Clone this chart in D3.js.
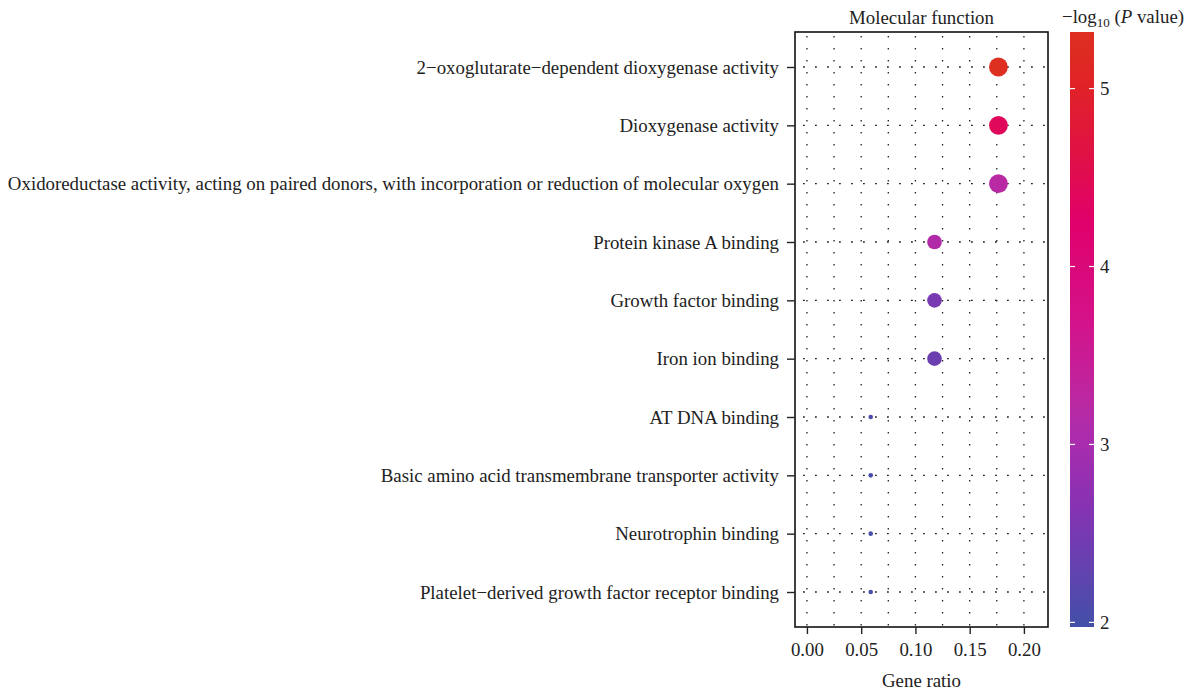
<!DOCTYPE html>
<html>
<head>
<meta charset="utf-8">
<script src="https://cdn.jsdelivr.net/npm/d3@7"></script>
<style>
  html, body { margin: 0; padding: 0; background: #fff; }
  svg text { font-family: "Liberation Serif", "DejaVu Serif", serif; fill: #222; }
</style>
</head>
<body>
<svg id="chart" width="1186" height="693"></svg>
<script>
// GO terms (molecular function), top to bottom
const terms = [
  "2\u2212oxoglutarate\u2212dependent dioxygenase activity",
  "Dioxygenase activity",
  "Oxidoreductase activity, acting on paired donors, with incorporation or reduction of molecular oxygen",
  "Protein kinase A binding",
  "Growth factor binding",
  "Iron ion binding",
  "AT DNA binding",
  "Basic amino acid transmembrane transporter activity",
  "Neurotrophin binding",
  "Platelet\u2212derived growth factor receptor binding"
];
const geneRatio = [0.1765, 0.1765, 0.1765, 0.1176, 0.1176, 0.1176, 0.0588, 0.0588, 0.0588, 0.0588];
const geneCount = [3, 3, 3, 2, 2, 2, 1, 1, 1, 1];
const negLogP   = [5.318, 4.42, 3.22, 3.12, 2.52, 2.38, 2.06, 2.04, 2.0, 1.974];

const xTicks = [0, 0.05, 0.10, 0.15, 0.20];
const xGrid  = [0, 0.025, 0.05, 0.075, 0.10, 0.125, 0.15, 0.175, 0.20];
const legendTicks = [2, 3, 4, 5];

// colour ramp for -log10(P)
const stopValues = [1.974, 2.35, 2.69, 3.0, 3.25, 3.7, 4.26, 4.6, 5.0, 5.318];
const stopColors = ["#4250a8", "#6840b0", "#8a31b2", "#a82dae", "#bb28a2", "#d4128a", "#e0006a", "#e01048", "#e02228", "#dd3020"];

const FS = 18.85;
const svg = d3.select("#chart");
const panel = { left: 795, right: 1048, top: 32, bottom: 627 };

const x = d3.scaleLinear().domain([-0.011, 0.2222]).range([panel.left, panel.right]);
const y = d3.scalePoint().domain(terms).range([panel.top, panel.bottom]).padding(0.6);
const color = d3.scaleLinear().domain(stopValues).range(stopColors).interpolate(d3.interpolateRgb);
// size: sqrt-of-rescaled count
const cExt = d3.extent(geneCount);
const rescale = d3.scaleLinear().domain(cExt).range([0, 1]);
const radius = d3.scaleSqrt().domain([0, 1]).range([2.3, 9.4]);

const g = svg.append("g");

// vertical dotted grid
g.selectAll("line.vgrid").data(xGrid).join("line")
  .attr("x1", d => x(d)).attr("x2", d => x(d))
  .attr("y1", panel.top).attr("y2", panel.bottom)
  .attr("stroke", "#222").attr("stroke-width", 1.3)
  .attr("stroke-dasharray", "1.6,10.4")
  .attr("stroke-dashoffset", -4);

// horizontal dotted grid at each term
g.selectAll("line.hgrid").data(terms).join("line")
  .attr("x1", panel.left).attr("x2", panel.right)
  .attr("y1", d => y(d)).attr("y2", d => y(d))
  .attr("stroke", "#222").attr("stroke-width", 1.3)
  .attr("stroke-dasharray", "1.8,10.2")
  .attr("stroke-dashoffset", -8);

// points
const rows = terms.map((t, i) => ({ term: t, ratio: geneRatio[i], count: geneCount[i], p: negLogP[i] }));
g.selectAll("circle.pt").data(rows).join("circle")
  .attr("cx", d => x(d.ratio))
  .attr("cy", d => y(d.term))
  .attr("r", d => radius(rescale(d.count)))
  .attr("fill", d => color(d.p));

// panel border
g.append("rect")
  .attr("x", panel.left).attr("y", panel.top)
  .attr("width", panel.right - panel.left).attr("height", panel.bottom - panel.top)
  .attr("fill", "none").attr("stroke", "#111").attr("stroke-width", 1.6);

// y axis
const yAxis = g.append("g").attr("transform", `translate(${panel.left},0)`)
  .call(d3.axisLeft(y).tickSize(8).tickPadding(8));
yAxis.select(".domain").remove();
yAxis.selectAll(".tick line").attr("stroke", "#222").attr("stroke-width", 1.4);
yAxis.selectAll(".tick text").attr("font-size", FS).style("font-family", '"Liberation Serif", serif').attr("fill", "#222");

// x axis
const xAxis = g.append("g").attr("transform", `translate(0,${panel.bottom})`)
  .call(d3.axisBottom(x).tickValues(xTicks).tickFormat(d3.format(".2f")).tickSize(7).tickPadding(9));
xAxis.select(".domain").remove();
xAxis.selectAll(".tick line").attr("stroke", "#222").attr("stroke-width", 1.4);
xAxis.selectAll(".tick text").attr("font-size", FS).style("font-family", '"Liberation Serif", serif').attr("fill", "#222");

// titles
svg.append("text").attr("x", (panel.left + panel.right) / 2).attr("y", 24)
  .attr("text-anchor", "middle").attr("font-size", FS).text("Molecular function");
svg.append("text").attr("x", (panel.left + panel.right) / 2).attr("y", 687)
  .attr("text-anchor", "middle").attr("font-size", FS).text("Gene ratio");

// colour bar legend
const bar = { x: 1070, w: 24, top: 32, bottom: 627 };
const lg = d3.scaleLinear().domain(d3.extent(negLogP)).range([bar.bottom, bar.top]);
const defs = svg.append("defs");
const grad = defs.append("linearGradient").attr("id", "pgrad")
  .attr("x1", 0).attr("y1", 1).attr("x2", 0).attr("y2", 0);
const [pMin, pMax] = d3.extent(negLogP);
grad.selectAll("stop").data(d3.range(0, 1.0001, 0.02)).join("stop")
  .attr("offset", d => d)
  .attr("stop-color", d => color(pMin + d * (pMax - pMin)));
svg.append("rect").attr("x", bar.x).attr("y", bar.top)
  .attr("width", bar.w).attr("height", bar.bottom - bar.top)
  .attr("fill", "url(#pgrad)");
const lt = svg.append("g");
lt.selectAll("line.l").data(legendTicks).join("line")
  .attr("x1", bar.x).attr("x2", bar.x + 5)
  .attr("y1", d => lg(d)).attr("y2", d => lg(d))
  .attr("stroke", "#fff").attr("stroke-width", 1.2);
lt.selectAll("line.r").data(legendTicks).join("line")
  .attr("x1", bar.x + bar.w - 5).attr("x2", bar.x + bar.w)
  .attr("y1", d => lg(d)).attr("y2", d => lg(d))
  .attr("stroke", "#fff").attr("stroke-width", 1.2);
lt.selectAll("text").data(legendTicks).join("text")
  .attr("x", bar.x + bar.w + 6).attr("y", d => lg(d))
  .attr("dy", "0.35em").attr("font-size", FS).text(d => d);

const lt2 = svg.append("text").attr("x", 1062).attr("y", 23).attr("font-size", FS);
lt2.append("tspan").text("\u2212log");
lt2.append("tspan").attr("font-size", 13).attr("dy", 4).text("10");
lt2.append("tspan").attr("dy", -4).text(" (");
lt2.append("tspan").attr("font-style", "italic").text("P");
lt2.append("tspan").text(" value)");
</script>
</body>
</html>
